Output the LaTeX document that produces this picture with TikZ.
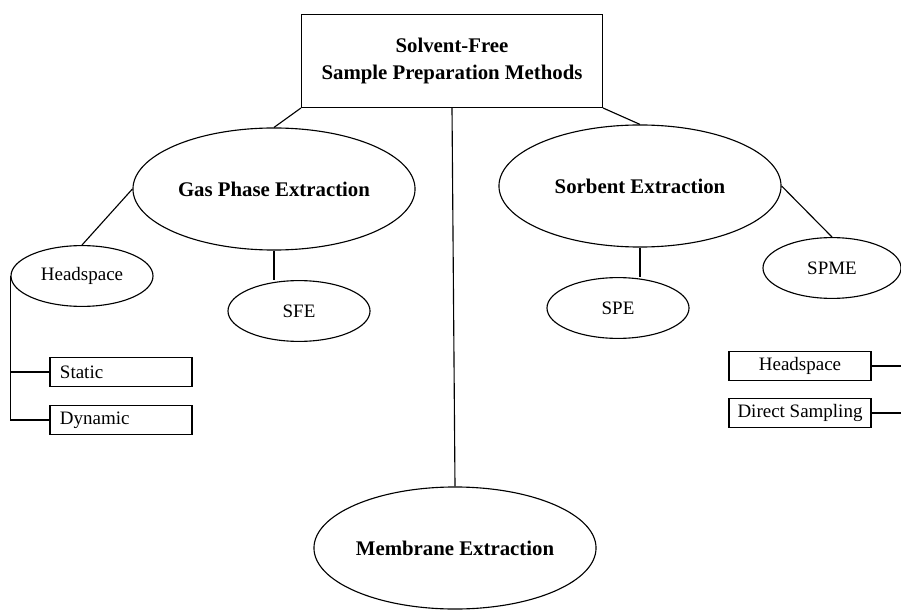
\documentclass[tikz,border=0pt]{standalone}
\usepackage{fontspec}
\setmainfont{Liberation Serif}
\usetikzlibrary{shapes.geometric}

\tikzset{
  bigell/.style={draw,ellipse,line width=0.8pt,inner sep=0pt,
    minimum width=7.05cm,minimum height=3.05cm,
    font=\fontsize{14.8}{18}\selectfont\bfseries},
  smallell/.style={draw,ellipse,line width=0.8pt,inner sep=0pt,
    minimum width=3.55cm,minimum height=1.52cm,
    font=\fontsize{13.5}{15}\selectfont},
  leafbox/.style={draw,rectangle,line width=0.8pt,inner sep=0pt,
    minimum width=3.55cm,minimum height=0.73cm,
    font=\fontsize{13.5}{15}\selectfont},
  link/.style={line width=0.8pt}
}

\begin{document}
\begin{tikzpicture}[x=0.025cm,y=-0.025cm]
      \useasboundingbox (0,0) rectangle (901,610);

      % root
      \node[draw,rectangle,line width=0.8pt,minimum width=7.52cm,minimum height=2.32cm,
        align=center,font=\fontsize{14.8}{19.8}\selectfont\bfseries]
        (root) at (452,61) {Solvent-Free\\Sample Preparation Methods};

      % main branches
      \node[bigell] (gas) at (274,189) {Gas Phase Extraction};
      \node[bigell] (sorb) at (640,186) {Sorbent Extraction};
      \node[bigell] (memb) at (455,548) {Membrane Extraction};

      % sub nodes
      \node[smallell] (hsl) at (82,276) {Headspace};
      \node[smallell] (sfe) at (299,311) {SFE};
      \node[smallell] (spe) at (618,308) {SPE};
      \node[smallell,minimum width=3.45cm] (spme) at (832,268) {SPME};

      \node[leafbox,text width=3.05cm,align=left,inner xsep=0.25cm] (static) at (121,372) {Static};
      \node[leafbox,text width=3.05cm,align=left,inner xsep=0.25cm] (dynamic) at (121,420) {Dynamic};
      \node[leafbox] (hsr) at (800,366) {Headspace};
      \node[leafbox] (direct) at (800,413) {Direct Sampling};

      \coordinate (rbus) at (905,268);

      % connectors
      \draw[link] (root.south west) -- (gas.north);
      \draw[link] (root.south east) -- (sorb.north);
      \draw[link] (root.south) -- (memb.north);
      \draw[link] (gas.west) -- (hsl.north);
      \draw[link] (gas.south) -- (gas.south |- sfe.north);
      \draw[link] (sorb.south) -- (sorb.south |- spe.north);
      \draw[link] (sorb.east) -- (spme.north);
      \draw[link] (hsl.west) |- (static.west);
      \draw[link] (hsl.west) |- (dynamic.west);
      \draw[link] (spme.east) -- (rbus) |- (direct.east);
      \draw[link] (hsr.east) -- (hsr.east -| rbus);
    \end{tikzpicture}
\end{document}
